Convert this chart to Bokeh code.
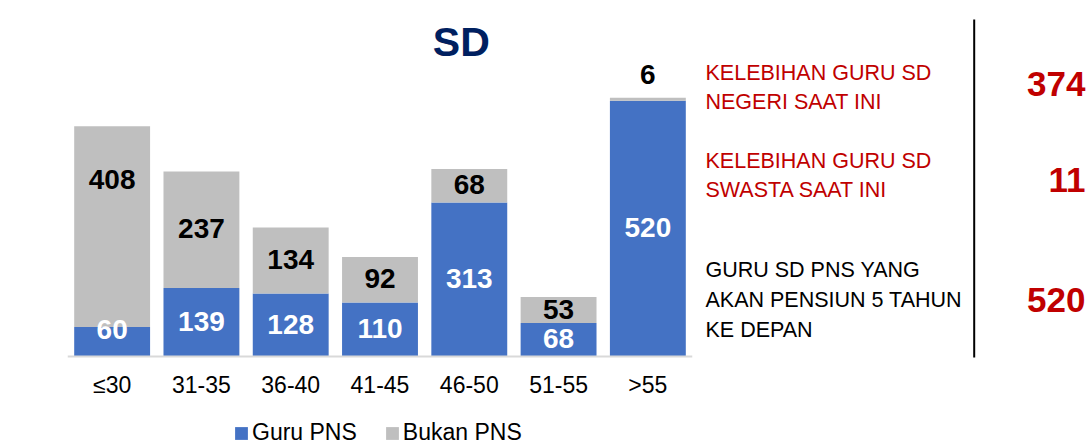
from bokeh.plotting import figure
from bokeh.models import ColumnDataSource, Range1d, FactorRange
from bokeh.layouts import row
from bokeh.core.properties import value
from bokeh.embed import file_html
from bokeh.resources import INLINE

# ---------------- data ----------------
categories = ["≤30", "31-35", "36-40", "41-45", "46-50", "51-55", ">55"]
guru_pns = [60, 139, 128, 110, 313, 68, 520]
bukan_pns = [408, 237, 134, 92, 68, 53, 6]
series_names = ["Guru PNS", "Bukan PNS"]
chart_title = "SD"

summary_texts = [
    ["KELEBIHAN GURU SD", "NEGERI SAAT INI"],
    ["KELEBIHAN GURU SD", "SWASTA SAAT INI"],
    ["GURU SD PNS YANG", "AKAN PENSIUN 5 TAHUN", "KE DEPAN"],
]
summary_values = [374, 11, 520]

# ---------------- styles ----------------
BLUE = "#4472C4"
GRAY = "#BFBFBF"
RED = "#C00000"
NAVY = "#002060"
FONT = "Liberation Sans"

H = 446            # canvas height
BASE = 356         # pixel row of the value axis baseline
S = 0.492          # pixels per unit
Y_END = BASE / S
Y_START = -(H - BASE) / S
BIAS = 1           # text anchor vs. visual centre of capitals (px)


def px_to_units(px):
    return px / S


# ---------------- left chart ----------------
p = figure(x_range=FactorRange(*categories), y_range=Range1d(Y_START, Y_END),
           width=703, height=H, output_backend="svg", toolbar_location=None,
           min_border_left=67, min_border_right=11, min_border_top=0,
           min_border_bottom=0)
p.outline_line_color = None
p.xgrid.visible = False
p.ygrid.visible = False
p.yaxis.visible = False
p.border_fill_color = "white"

src = ColumnDataSource(dict(cat=categories, guru=guru_pns, bukan=bukan_pns))
p.vbar_stack(["guru", "bukan"], x="cat", width=0.85, color=[BLUE, GRAY],
             line_color=None, source=src, legend_label=series_names)

ax = p.xaxis[0]
ax.fixed_location = 0
ax.axis_line_color = "#D9D9D9"
ax.axis_line_width = 2
ax.major_tick_line_color = None
ax.minor_tick_line_color = None
ax.major_label_text_font = FONT
ax.major_label_text_font_size = "23px"
ax.major_label_text_color = "#000000"
ax.major_label_standoff = 9

# data labels, centred on their segments
LBL = 28
blue_y, gray_y = [], []
nudge_blue = {"≤30": -11}
nudge_gray = {"≤30": -46}
for c, g, b in zip(categories, guru_pns, bukan_pns):
    blue_y.append(g / 2 - px_to_units(nudge_blue.get(c, 0) - BIAS))
    if b < 20:
        gray_y.append(g + b + px_to_units(22 + BIAS))
    else:
        gray_y.append(g + b / 2 - px_to_units(nudge_gray.get(c, 0) - BIAS))

p.text(x=categories, y=blue_y, text=[str(v) for v in guru_pns],
       text_align="center", text_baseline="alphabetic", text_color="white",
       text_font=value(FONT), text_font_style="bold", text_font_size=f"{LBL}px")
p.text(x=categories, y=gray_y, text=[str(v) for v in bukan_pns],
       text_align="center", text_baseline="alphabetic", text_color="#000000",
       text_font=value(FONT), text_font_style="bold", text_font_size=f"{LBL}px")

# title
TS = 41
title_y = px_to_units(BASE - 42 + BIAS)
p.text(x=["46-50"], y=[title_y], text=[chart_title], x_offset=-8,
       text_align="center", text_baseline="alphabetic", text_color=NAVY,
       text_font=value(FONT), text_font_style="bold", text_font_size=f"{TS}px")

lg = p.legend[0]
lg.orientation = "horizontal"
lg.location = (166, 0)
lg.padding = 0
lg.margin = 0
lg.spacing = 27
lg.label_standoff = 3
lg.glyph_width = 16
lg.glyph_height = 16
lg.border_line_alpha = 0
lg.background_fill_alpha = 0
lg.label_text_font = FONT
lg.label_text_font_size = "23px"
lg.label_text_color = "#000000"

# ---------------- right panel (coordinates = page pixels) ----------------
q = figure(x_range=Range1d(703, 1087), y_range=Range1d(H, 0),
           width=384, height=H, output_backend="svg", toolbar_location=None,
           min_border=0)
q.axis.visible = False
q.grid.visible = False
q.outline_line_color = None

q.segment(x0=[973.7], y0=[19], x1=[973.7], y1=[357], line_color="black", line_width=2)

TX = 21.5
line_centres = [[73, 102], [161, 190], [270, 300, 330]]
value_centres = [84, 180, 300]
text_colors = [RED, RED, "#000000"]
for lines, cs, col in zip(summary_texts, line_centres, text_colors):
    q.text(x=[705] * len(lines), y=[c - BIAS for c in cs], text=lines,
           text_align="left", text_baseline="alphabetic", text_color=col,
           text_font=value(FONT), text_font_size=f"{TX}px")
q.text(x=[1085] * 3, y=[c - BIAS for c in value_centres],
       text=[str(v) for v in summary_values],
       text_align="right", text_baseline="alphabetic", text_color=RED,
       text_font=value(FONT), text_font_style="bold", text_font_size="35px")

layout = row(p, q)
open("out.html", "w").write(file_html(layout, INLINE))
